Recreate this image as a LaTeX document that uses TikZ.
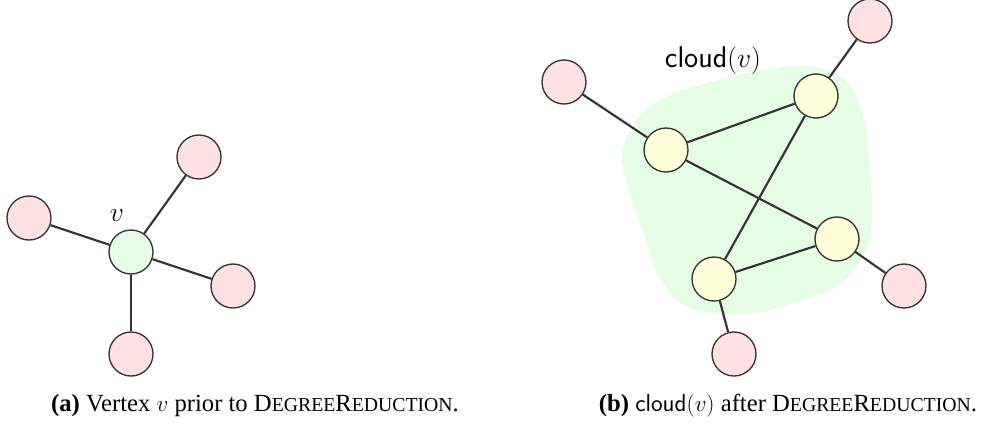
\documentclass[tikz,border=0pt]{standalone}
\usepackage{fontspec}
\setmainfont{Liberation Serif}
\definecolor{pinkfill}{HTML}{FFE0E3}
\definecolor{greenfill}{HTML}{E5FDE6}
\definecolor{yellowfill}{HTML}{FEFFD8}
\definecolor{blobfill}{HTML}{E5FDE5}
\definecolor{edgecol}{HTML}{333333}
\newcommand{\capsc}[1]{{\fontsize{14.8}{17}\selectfont #1}}
\newcommand{\capfont}{\fontsize{18.5}{22}\selectfont}
\begin{document}
\begin{tikzpicture}[x=0.75pt,y=-0.75pt,
  vtx/.style={circle,draw=edgecol,line width=1pt,minimum size=33pt,inner sep=0pt},
  outer/.style={vtx,fill=pinkfill},
  center/.style={vtx,fill=greenfill},
  inner/.style={vtx,fill=yellowfill},
  edge/.style={draw=edgecol,line width=1.6pt},
  lbl/.style={inner sep=0pt,font=\fontsize{22.5}{27}\selectfont},
  caption/.style={inner sep=0pt,font=\capfont}]
\useasboundingbox (0,0) rectangle (990,426);
% ---------- (a)
\node[center] (v) at (131,252) {};
\node[outer] (a1) at (199,157) {};
\node[outer] (a2) at (29,218) {};
\node[outer] (a3) at (233,286) {};
\node[outer] (a4) at (131,354) {};
\draw[edge] (v) -- (a1);
\draw[edge] (v) -- (a2);
\draw[edge] (v) -- (a3);
\draw[edge] (v) -- (a4);
\node[lbl] (vl) at (117,216) {$v$};
% ---------- (b)
\fill[blobfill] plot[smooth cycle,tension=0.6] coordinates {
 (650,106) (710,82) (797,66) (843,78) (863,115) (869,160) (872,215)
 (866,250) (843,282) (810,298) (760,312) (720,314) (680,303) (658,274)
 (643,232) (627,184) (623,148)};
\node[inner] (yT) at (816,96) {};
\node[inner] (yL) at (666,150) {};
\node[inner] (yR) at (837,239) {};
\node[inner] (yB) at (714,279) {};
\node[outer] (pL) at (564,82) {};
\node[outer] (pT) at (870,21) {};
\node[outer] (pR) at (904,286) {};
\node[outer] (pB) at (734,354) {};
\draw[edge] (pL) -- (yL);
\draw[edge] (yL) -- (yT);
\draw[edge] (yL) -- (yR);
\draw[edge] (yT) -- (yB);
\draw[edge] (yT) -- (pT);
\draw[edge] (yR) -- (yB);
\draw[edge] (yR) -- (pR);
\draw[edge] (yB) -- (pB);
\node[lbl] (cl) at (713,61) {$\mathsf{cloud}(v)$};
% ---------- captions
\node[caption] (ca) at (255,406) {\textbf{(a)} Vertex $v$ prior to D\capsc{EGREE}R\capsc{EDUCTION}.};
\node[caption] (cb) at (788,406) {\textbf{(b)} $\mathsf{cloud}(v)$ after D\capsc{EGREE}R\capsc{EDUCTION}.};
\end{tikzpicture}
\end{document}
